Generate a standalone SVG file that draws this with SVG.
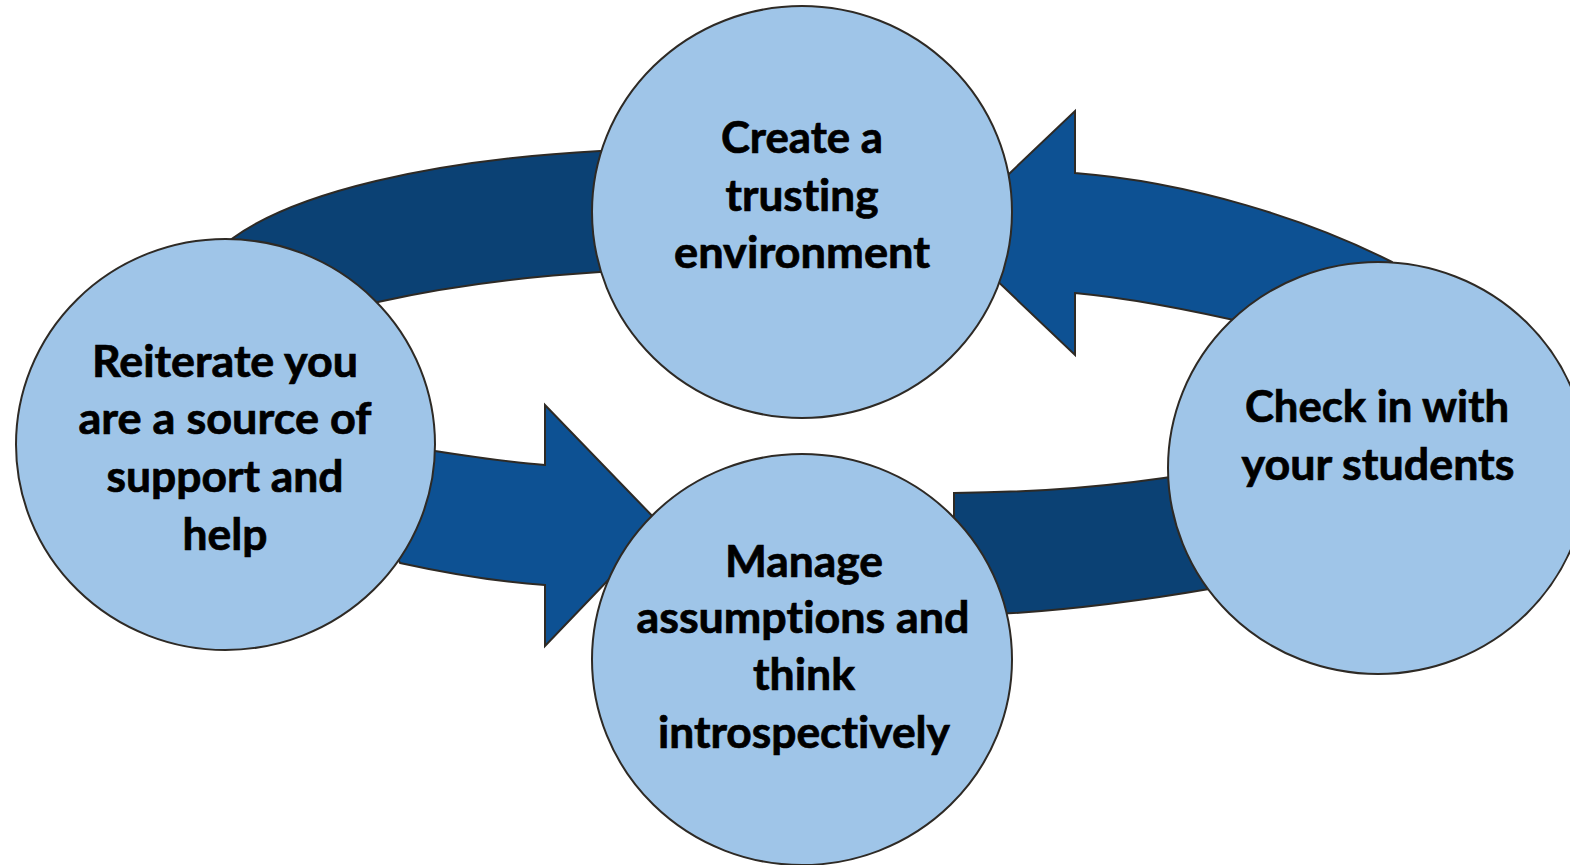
<svg xmlns="http://www.w3.org/2000/svg" width="1570" height="865" viewBox="0 0 1570 865">
<style>
.band{fill:#0b4174;stroke:#2e2a25;stroke-width:2;stroke-linejoin:miter}
.arrow{fill:#0d5193;stroke:#2e2a25;stroke-width:2;stroke-linejoin:miter}
.node ellipse{fill:#9fc5e8;stroke:#2e2a25;stroke-width:2}
.node text{font-family:Lato,"Open Sans","Liberation Sans",sans-serif;font-weight:bold;font-size:43px;fill:#000;stroke:#000;stroke-width:0.7;text-anchor:middle;font-variant-ligatures:none}
</style>
<rect width="1570" height="865" fill="#ffffff"/>
<g id="connectors">
<path class="band" d="M200,262 L233,238 C295,193 430,160 600,151 L640,150 L640,270 L600,272 C520,277 440,288 378,302 L330,330 Z"/>
<path class="arrow" d="M1075,111 L1075,173 C1190,182 1310,220 1392,262 L1420,300 L1260,326 C1200,312 1130,298 1075,293 L1075,355 L947,233 Z"/>
<path class="arrow" d="M420,449 L435,451 C480,458 515,463 545,465 L545,405 L661,525 L545,646 L545,585 C500,582 450,574 400,563 L380,520 Z"/>
<path class="band" d="M954,493 C1040,492 1110,487 1190,474 L1230,520 L1215,588 C1140,601 1070,610 1000,614 L954,600 Z"/>
</g>
<g id="node-top" class="node">
<ellipse cx="802" cy="212" rx="210" ry="206"/>
<text x="802" y="153" textLength="162" lengthAdjust="spacingAndGlyphs">Create a</text>
<text x="802" y="211" textLength="153" lengthAdjust="spacingAndGlyphs">trusting</text>
<text x="802" y="268" textLength="256" lengthAdjust="spacingAndGlyphs">environment</text>
</g>
<g id="node-left" class="node">
<ellipse cx="225.5" cy="444.5" rx="209.5" ry="205.5"/>
<text x="225" y="377" textLength="266" lengthAdjust="spacingAndGlyphs">Reiterate you</text>
<text x="225" y="434" textLength="293" lengthAdjust="spacingAndGlyphs">are a source of</text>
<text x="225" y="492" textLength="237" lengthAdjust="spacingAndGlyphs">support and</text>
<text x="225" y="550" textLength="85" lengthAdjust="spacingAndGlyphs">help</text>
</g>
<g id="node-right" class="node">
<ellipse cx="1378" cy="468" rx="210" ry="206"/>
<text x="1377" y="422" textLength="264" lengthAdjust="spacingAndGlyphs">Check in with</text>
<text x="1378" y="480" textLength="273" lengthAdjust="spacingAndGlyphs">your students</text>
</g>
<g id="node-bottom" class="node">
<ellipse cx="802" cy="659.5" rx="210" ry="205.5"/>
<text x="804" y="577" textLength="158" lengthAdjust="spacingAndGlyphs">Manage</text>
<text x="803" y="633" textLength="333" lengthAdjust="spacingAndGlyphs">assumptions and</text>
<text x="804" y="690" textLength="102" lengthAdjust="spacingAndGlyphs">think</text>
<text x="804" y="748" textLength="292" lengthAdjust="spacingAndGlyphs">introspectively</text>
</g>
</svg>
